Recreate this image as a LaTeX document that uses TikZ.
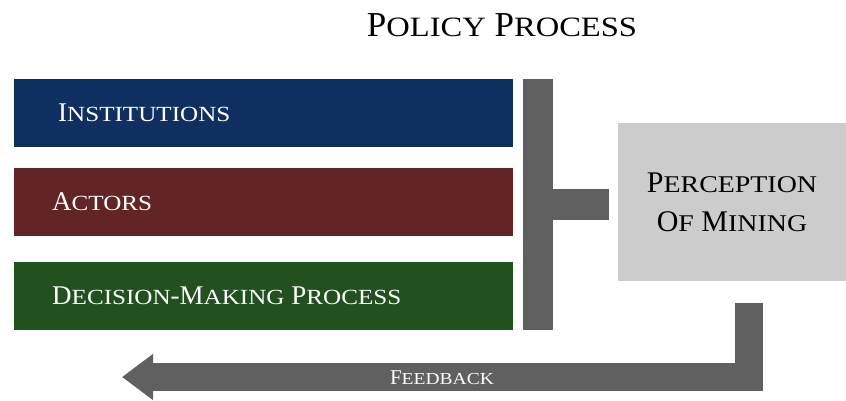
\documentclass[tikz,border=0pt]{standalone}
\usepackage{fontspec}
\setmainfont{Liberation Serif}
\usepackage{graphicx}
\usetikzlibrary{arrows.meta}

\definecolor{instblue}{RGB}{14,47,95}
\definecolor{actred}{RGB}{98,36,36}
\definecolor{decgreen}{RGB}{34,80,31}
\definecolor{bargrey}{RGB}{96,96,96}
\definecolor{boxgrey}{RGB}{204,204,204}

% lower-case letters of the small caps
\newcommand{\lc}[1]{\scalebox{0.93}[0.8]{#1}}

\begin{document}
\begin{tikzpicture}[x=1pt,y=-1pt,
  bar/.style={fill=#1,minimum width=499pt,minimum height=68pt,anchor=west,inner sep=0pt},
  barlabel/.style={anchor=west,inner sep=0pt,text=white,font=\fontsize{27}{30}\selectfont},
  greybar/.style={fill=bargrey,inner sep=0pt},
  fback/.style={draw=bargrey,line width=28pt,-{Triangle[width=44pt,length=31pt]}}]
  \useasboundingbox (0,0) rectangle (846,400);

  \node[font=\fontsize{35}{40}\selectfont] (title) at (502,25) {P\lc{OLICY} P\lc{ROCESS}};

  % the three bars
  \node[bar=instblue] (inst) at (14,113) {};
  \node[bar=actred] (actors) at (14,202) {};
  \node[bar=decgreen] (decision) at (14,295.5) {};
  \node[barlabel] (instlbl) at ([xshift=44pt]inst.west) {I\lc{NSTITUTIONS}};
  \node[barlabel] (actlbl) at ([xshift=38pt]actors.west) {A\lc{CTORS}};
  \node[barlabel] (declbl) at ([xshift=38pt]decision.west) {D\lc{ECISION}-M\lc{AKING} P\lc{ROCESS}};

  % bracket and perception box
  \node[greybar,minimum width=30pt,minimum height=251pt] (tbar) at (538,204.5) {};
  \node[fill=boxgrey,minimum width=228pt,minimum height=158pt,align=center,
    font=\fontsize{30}{39}\selectfont] (percep) at (732,202) {P\lc{ERCEPTION}\\O\lc{F} M\lc{INING}};
  \draw[bargrey,line width=31pt,shorten >=9pt] (tbar.east) -- (tbar.east -| percep.west);

  % feedback arrow
  \coordinate (fbtip) at (122,377);
  \draw[fback] (percep.south) ++(17,22) |- (fbtip);
  \node[text=white,font=\fontsize{21}{24}\selectfont] (fblbl) at (442,378) {F\lc{EEDBACK}};
\end{tikzpicture}
\end{document}
